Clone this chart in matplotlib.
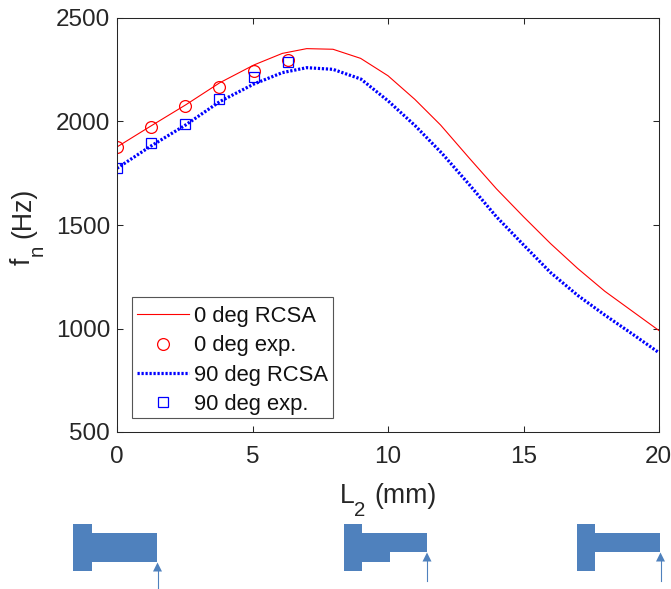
import matplotlib.pyplot as plt
from matplotlib.patches import Polygon, Rectangle
from matplotlib.transforms import ScaledTranslation

plt.rcParams["font.family"] = ["Liberation Sans", "DejaVu Sans"]

# RCSA curves
x_0_rcsa = [0, 1.21, 2.53, 3.79, 5.05, 6.1, 7, 7.97, 8.99, 10, 10.99, 11.94, 13, 14, 15, 16, 17, 18, 19, 20]
fn_0_rcsa = [1877, 1975, 2080, 2187, 2273, 2329, 2352, 2349, 2305, 2221, 2107, 1983, 1823, 1675, 1540,
             1410, 1290, 1180, 1085, 990]
x_90_rcsa = [0, 1.21, 2.53, 3.79, 5.05, 6.1, 7, 7.97, 9, 10, 11, 12, 13, 14, 15, 16, 17, 18, 19, 20]
fn_90_rcsa = [1774, 1878, 1983, 2096, 2181, 2236, 2260, 2252, 2205, 2100, 1980, 1845, 1695, 1540, 1404,
              1270, 1160, 1065, 975, 883]

# measured points
x_exp = [0, 1.24, 2.52, 3.78, 5.05, 6.32]
fn_0_exp = [1875, 1973, 2075, 2165, 2243, 2297]
fn_90_exp = [1774, 1895, 1988, 2107, 2214, 2289]

ink = "#262626"
sketch = "#4f81bd"

fig = plt.figure(figsize=(6.71, 5.89), dpi=100)
ax = fig.add_axes([117 / 671, 1 - 432 / 589, 542 / 671, 414 / 589])

ax.plot(x_0_rcsa, fn_0_rcsa, color="red", lw=0.8, label="0 deg RCSA")
ax.plot(x_exp, fn_0_exp, "o", mfc="none", mec="red", ms=8.5, mew=0.9, label="0 deg exp.")
ax.plot(x_90_rcsa, fn_90_rcsa, color="blue", lw=2.3, ls=(0, (0.7, 0.55)), label="90 deg RCSA")
ax.plot(x_exp, fn_90_exp, "s", mfc="none", mec="blue", ms=6.8, mew=0.9, label="90 deg exp.")

ax.set_xlim(0, 20)
ax.set_ylim(500, 2500)
ax.set_xticks([0, 5, 10, 15, 20])
ax.set_yticks([500, 1000, 1500, 2000, 2500])
ax.tick_params(direction="in", top=True, right=True, length=4.3, width=0.75, labelsize=17.5, colors=ink)
ax.tick_params(axis="x", pad=10)
ax.tick_params(axis="y", pad=5)
for s in ax.spines.values():
    s.set_color(ink)
    s.set_linewidth(0.75)

# last tick label sits right on the image edge
last = ax.get_xticklabels()[-1]
last.set_transform(last.get_transform() + ScaledTranslation(-1 / 100, 0, fig.dpi_scale_trans))

# legend frame is separate because the entries sit a little low inside it
ax.add_patch(Rectangle((131.5 / 671, 1 - 418 / 589), 201 / 671, 121 / 589, transform=fig.transFigure,
                       fc="white", ec="#555555", lw=0.8, zorder=4))
leg = ax.legend(loc="lower left", bbox_to_anchor=(130.5 / 671, 1 - 421.5 / 589), bbox_transform=fig.transFigure,
                fontsize=15.8, frameon=False, borderaxespad=0, borderpad=0.3, labelspacing=0.38,
                handlelength=2.35, handletextpad=0.23, labelcolor="#111111")
leg.set_zorder(5)

# part sketches and axis labels, placed in pixel coordinates
overlay = fig.add_axes([0, 0, 1, 1])
overlay.set_xlim(0, 671)
overlay.set_ylim(589, 0)
overlay.axis("off")
overlay.patch.set_alpha(0)

overlay.text(340, 503, "L", fontsize=19.2, color=ink, va="baseline")
overlay.text(354, 516, "2", fontsize=14.7, color=ink, va="baseline")
overlay.text(374, 503, "(mm)", fontsize=19.2, color=ink, va="baseline")
overlay.text(30, 265, "f", fontsize=19.2, color=ink, rotation=90, va="baseline", ha="left", rotation_mode="anchor")
overlay.text(43, 256, "n", fontsize=14.7, color=ink, rotation=90, va="baseline", ha="left", rotation_mode="anchor")
overlay.text(30, 238, "(Hz)", fontsize=19.2, color=ink, rotation=90, va="baseline", ha="left", rotation_mode="anchor")

part_a = [(73, 524), (92, 524), (92, 533), (157, 533), (157, 562), (92, 562), (92, 571), (73, 571)]
part_b = [(344, 524), (362, 524), (362, 533), (427, 533), (427, 552), (390, 552), (390, 562), (362, 562),
          (362, 571), (344, 571)]
part_c = [(576.5, 524), (595, 524), (595, 533), (660, 533), (660, 552), (595, 552), (595, 571), (576.5, 571)]

for pts in (part_a, part_b, part_c):
    overlay.add_patch(Polygon(pts, closed=True, fc=sketch, ec="none"))

for x0, y_tip, y_end in [(157.5, 562.5, 589), (427, 552.5, 581), (660.5, 552.5, 581)]:
    overlay.plot([x0, x0], [y_tip + 6, y_end], color=sketch, lw=0.8)
    overlay.add_patch(Polygon([(x0, y_tip), (x0 + 4.5, y_tip + 9), (x0 - 4.5, y_tip + 9)], closed=True, fc=sketch, ec="none"))

fig.savefig("out.png", dpi=100)
